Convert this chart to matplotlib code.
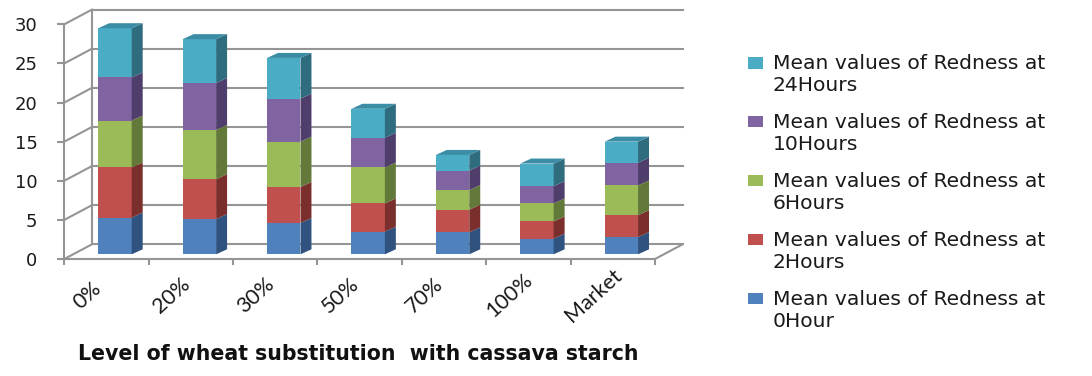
import matplotlib
matplotlib.use("Agg")
import matplotlib.pyplot as plt
from matplotlib.patches import Rectangle
from matplotlib.transforms import ScaledTranslation
import numpy as np

# ---- data -------------------------------------------------------------
categories = ["0%", "20%", "30%", "50%", "70%", "100%", "Market"]
redness_0h = [4.7, 4.5, 4.0, 2.9, 2.8, 2.0, 2.2]
redness_2h = [6.4, 5.1, 4.6, 3.6, 2.9, 2.2, 2.8]
redness_6h = [6.0, 6.3, 5.8, 4.6, 2.5, 2.3, 3.8]
redness_10h = [5.5, 6.0, 5.5, 3.8, 2.5, 2.2, 2.9]
redness_24h = [6.3, 5.6, 5.2, 3.7, 2.0, 2.9, 2.7]

series_labels = [
    "Mean values of Redness at\n0Hour",
    "Mean values of Redness at\n2Hours",
    "Mean values of Redness at\n6Hours",
    "Mean values of Redness at\n10Hours",
    "Mean values of Redness at\n24Hours",
]
y_ticks = [0, 5, 10, 15, 20, 25, 30]
x_title = "Level of wheat substitution  with cassava starch"

# ---- styling ------------------------------------------------------------
front_cols = ["#4F81BD", "#C0504D", "#9BBB59", "#8064A2", "#4BACC6"]
side_cols = ["#30527F", "#7B2F2D", "#62793A", "#4F3E6B", "#2F6C7E"]
top_col = "#3A8DA4"
grid_col = "#959595"

W, H = 1092, 376
fig = plt.figure(figsize=(W / 100, H / 100), dpi=100)
fig.patch.set_facecolor("white")


def fx(px):
    return px / W


def fy(py):
    return 1 - py / H


# front plane of the plot box (pixel coordinates)
left_px, right_px, top_px, bot_px = 64.3, 655.0, 24.3, 259.0
ax = fig.add_axes([fx(left_px), fy(bot_px), fx(right_px - left_px),
                   (bot_px - top_px) / H])
n = len(categories)
ax.set_xlim(-0.5, n - 0.5)
ax.set_ylim(0, 30)
ax.set_facecolor("none")

# depth offsets in data units
wall_dx, wall_dy = 0.326, 1.87      # back wall
bar_x_off, bar_y_off = -0.097, 0.60  # bar front face
bar_w = 0.396
depth_dx, depth_dy = 0.130, 0.64     # bar depth

# back wall gridlines, side wall and floor edges
x_l, x_r = -0.5, n - 0.5
for v in y_ticks:
    ax.plot([x_l + wall_dx, x_r + wall_dx], [v + wall_dy, v + wall_dy],
            color=grid_col, lw=1.5, clip_on=False, zorder=1)
    ax.plot([x_l, x_l + wall_dx], [v, v + wall_dy],
            color=grid_col, lw=1.5, clip_on=False, zorder=1)
ax.plot([x_l + wall_dx, x_l + wall_dx], [wall_dy, 30 + wall_dy],
        color=grid_col, lw=1.5, clip_on=False, zorder=1)
ax.plot([x_r, x_r + wall_dx], [0, wall_dy],
        color=grid_col, lw=1.5, clip_on=False, zorder=1)

# stacked 3-D style bars
stack = [redness_0h, redness_2h, redness_6h, redness_10h, redness_24h]
xs = np.arange(n)
bottoms = np.zeros(n)
for k, vals in enumerate(stack):
    vals = np.asarray(vals, dtype=float)
    x0 = xs + bar_x_off
    ax.bar(x0, vals, width=bar_w, bottom=bottoms + bar_y_off, align="edge",
           color=front_cols[k], linewidth=0, clip_on=False, zorder=3)
    for i in range(n):
        xa = x0[i] + bar_w
        yb = bottoms[i] + bar_y_off
        yt = yb + vals[i]
        ax.fill([xa, xa + depth_dx, xa + depth_dx, xa],
                [yb, yb + depth_dy, yt + depth_dy, yt],
                color=side_cols[k], linewidth=0, clip_on=False, zorder=3)
        if k == len(stack) - 1:
            ax.fill([x0[i], x0[i] + depth_dx, xa + depth_dx, xa],
                    [yt, yt + depth_dy, yt + depth_dy, yt],
                    color=top_col, linewidth=0, clip_on=False, zorder=3)
    bottoms = bottoms + vals

# axes frame: front-left vertical edge and front floor edge
for side in ("top", "right"):
    ax.spines[side].set_visible(False)
for side in ("left", "bottom"):
    ax.spines[side].set_color(grid_col)
    ax.spines[side].set_linewidth(1.5)

ax.set_yticks(y_ticks)
ax.set_yticklabels([str(t) for t in y_ticks], fontsize=13,
                   family="DejaVu Sans", color="#1a1a1a")
ax.tick_params(axis="y", direction="out", length=5.3, width=1.5,
               color=grid_col, pad=14)

ax.set_xticks(xs)
ax.set_xticks(np.arange(n + 1) - 0.5, minor=True)
ax.tick_params(axis="x", which="major", length=0, pad=26)
ax.tick_params(axis="x", which="minor", direction="out", length=4.5,
               width=1.5, color=grid_col)
ax.set_xticklabels(categories, rotation=42, ha="center", va="center",
                   rotation_mode="anchor", fontsize=15.5, family="Lato",
                   color="#1a1a1a")
shift = ScaledTranslation(-19 / 100, 0, fig.dpi_scale_trans)
for lab in ax.get_xticklabels():
    lab.set_transform(lab.get_transform() + shift)

# axis title
fig.text(fx(358.5), fy(354), x_title, ha="center", va="center",
         fontsize=14.8, fontweight="bold", family="DejaVu Sans",
         color="#111111")

# legend (reverse stacking order, top entry first)
step = 58.8
for j, k in enumerate(range(len(stack) - 1, -1, -1)):
    cy = 63 + j * step
    fig.patches.append(Rectangle((fx(748), fy(cy + 5.5)), fx(15), 11 / H,
                                 transform=fig.transFigure,
                                 facecolor=front_cols[k], edgecolor="none"))
    fig.text(fx(772.7), fy(cy + 11.85), series_labels[k], ha="left",
             va="center", fontsize=14.6, family="DejaVu Sans",
             linespacing=1.2, color="#1a1a1a")

fig.savefig("out.png", dpi=100, facecolor="white")
